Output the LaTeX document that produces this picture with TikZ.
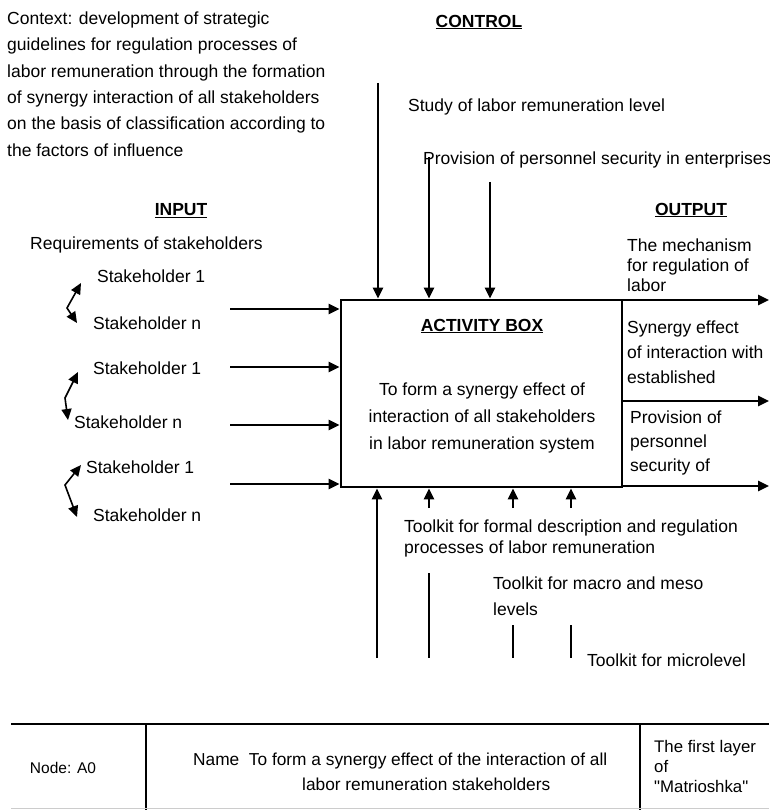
\documentclass[tikz,border=0pt]{standalone}
\usepackage{fontspec}
\setmainfont{Liberation Sans}[Ligatures=TeXOff]
\usetikzlibrary{arrows.meta}
\begin{document}
\begin{tikzpicture}[x=1pt,y=-1pt,
  txt/.style={inner sep=0pt,font=\fontsize{17.5}{20}\selectfont,anchor=west,align=left},
  ctr/.style={inner sep=0pt,font=\fontsize{17.5}{20}\selectfont},
  arr/.style={line width=2.6pt,-{Triangle[length=11pt,width=10pt]}},
  ln/.style={line width=2.6pt},
  sq/.style={line width=1.6pt,{Triangle[length=11pt,width=10pt]}-{Triangle[length=11pt,width=10pt]}}]
\useasboundingbox (0,0) rectangle (769,810);
% activity box
\node[draw,line width=2.8pt,minimum width=281pt,minimum height=187pt,inner sep=0pt] (box) at (481.5,393.5) {};
\node[ctr] (boxtitle) at (482,326) {\underline{\textbf{ACTIVITY BOX}}};
\node[ctr,font=\fontsize{17.5}{27}\selectfont,align=center] (boxtext) at (482,418) {To form a synergy effect of\\interaction of all stakeholders\\in labor remuneration system};
% headings
\node[txt,font=\fontsize{17.5}{26.4}\selectfont] (context) at (7,84) {Context: development of strategic\\guidelines for regulation processes of\\labor remuneration through the formation\\of synergy interaction of all stakeholders\\on the basis of classification according to\\the factors of influence};
\node[ctr] (control) at (479,22) {\underline{\textbf{CONTROL}}};
\node[ctr] (input) at (181,211) {\underline{\textbf{INPUT}}};
\node[ctr] (output) at (691,210) {\underline{\textbf{OUTPUT}}};
% control
\node[txt] (c1) at (408,107) {Study of labor remuneration level};
\node[txt] (c2) at (423,160) {Provision of personnel security in enterprises};
\coordinate (ca) at (378,83);
\coordinate (cb) at (429,157);
\coordinate (cc) at (490,182);
\draw[arr] (ca) -- (ca |- box.north);
\draw[arr] (cb) -- (cb |- box.north);
\draw[arr] (cc) -- (cc |- box.north);
% input
\node[txt] (req) at (30,245) {Requirements of stakeholders};
\node[txt] (s1a) at (97,276) {Stakeholder 1};
\node[txt] (sna) at (93,323) {Stakeholder n};
\node[txt] (s1b) at (93,368) {Stakeholder 1};
\node[txt] (snb) at (74,422) {Stakeholder n};
\node[txt] (s1c) at (86,467) {Stakeholder 1};
\node[txt] (snc) at (93,515) {Stakeholder n};
\coordinate (ia) at (230,309);
\coordinate (ib) at (230,367);
\coordinate (ic) at (230,425);
\coordinate (id) at (230,484);
\draw[arr] (ia) -- (ia -| box.west);
\draw[arr] (ib) -- (ib -| box.west);
\draw[arr] (ic) -- (ic -| box.west);
\draw[arr] (id) -- (id -| box.west);
\coordinate (qa1) at (81,283); \coordinate (qa2) at (67,308); \coordinate (qa3) at (77,323);
\coordinate (qb1) at (78,372); \coordinate (qb2) at (65,398); \coordinate (qb3) at (68,420);
\coordinate (qc1) at (81,465); \coordinate (qc2) at (65,485); \coordinate (qc3) at (77,517);
\draw[sq] (qa1) -- (qa2) -- (qa3);
\draw[sq] (qb1) -- (qb2) -- (qb3);
\draw[sq] (qc1) -- (qc2) -- (qc3);
% output
\node[txt,font=\fontsize{17.5}{20}\selectfont] (o1) at (627,265) {The mechanism\\for regulation of\\labor};
\node[txt,font=\fontsize{17.5}{25}\selectfont] (o2) at (627,352) {Synergy effect\\of interaction with\\established};
\node[txt,font=\fontsize{17.5}{24}\selectfont] (o3) at (630,443) {Provision of\\personnel\\security of};
\coordinate (oa) at (769,300);
\coordinate (ob) at (769,401);
\coordinate (oc) at (769,486);
\draw[arr] (oa -| box.east) -- (oa);
\draw[arr] (ob -| box.east) -- (ob);
\draw[arr] (oc -| box.east) -- (oc);
% mechanisms
\node[txt,font=\fontsize{17.5}{21}\selectfont] (m1) at (404,538) {Toolkit for formal description and regulation\\processes of labor remuneration};
\node[txt,font=\fontsize{17.5}{26}\selectfont] (m2) at (493,596) {Toolkit for macro and meso\\levels};
\node[txt] (m3) at (587,660) {Toolkit for microlevel};
\coordinate (ma) at (377,658);
\draw[arr] (ma) -- (ma |- box.south);
\coordinate (mb) at (429,508);
\coordinate (mc) at (513,508);
\coordinate (md) at (571,508);
\draw[arr] (mb) -- (mb |- box.south);
\draw[arr] (mc) -- (mc |- box.south);
\draw[arr] (md) -- (md |- box.south);
\coordinate (lb1) at (429,573); \coordinate (lb2) at (429,658);
\coordinate (lc1) at (513,625); \coordinate (lc2) at (513,658);
\coordinate (ld1) at (571,625); \coordinate (ld2) at (571,658);
\draw[ln] (lb1) -- (lb2);
\draw[ln] (lc1) -- (lc2);
\draw[ln] (ld1) -- (ld2);
% table
\coordinate (t0) at (11,724); \coordinate (t1) at (769,724);
\coordinate (v1) at (146,724); \coordinate (v1b) at (146,810);
\coordinate (v2) at (640,724); \coordinate (v2b) at (640,810);
\draw[ln] (t0) -- (t1);
\draw[ln] (v1) -- (v1b);
\draw[ln] (v2) -- (v2b);
\draw[line width=0.7pt,black!20] (11,808) -- (769,808);
\node[ctr,font=\fontsize{15.5}{20}\selectfont] (nodeA0) at (63,768) {Node: A0};
\node[txt,font=\fontsize{17.3}{25}\selectfont] (name) at (193,772) {Name\ \ To form a synergy effect of the interaction of all\\\hspace*{109pt}labor remuneration stakeholders};
\node[txt,font=\fontsize{16.8}{20}\selectfont] (layer) at (654,766) {The first layer\\of\\"Matrioshka"};
\end{tikzpicture}
\end{document}
